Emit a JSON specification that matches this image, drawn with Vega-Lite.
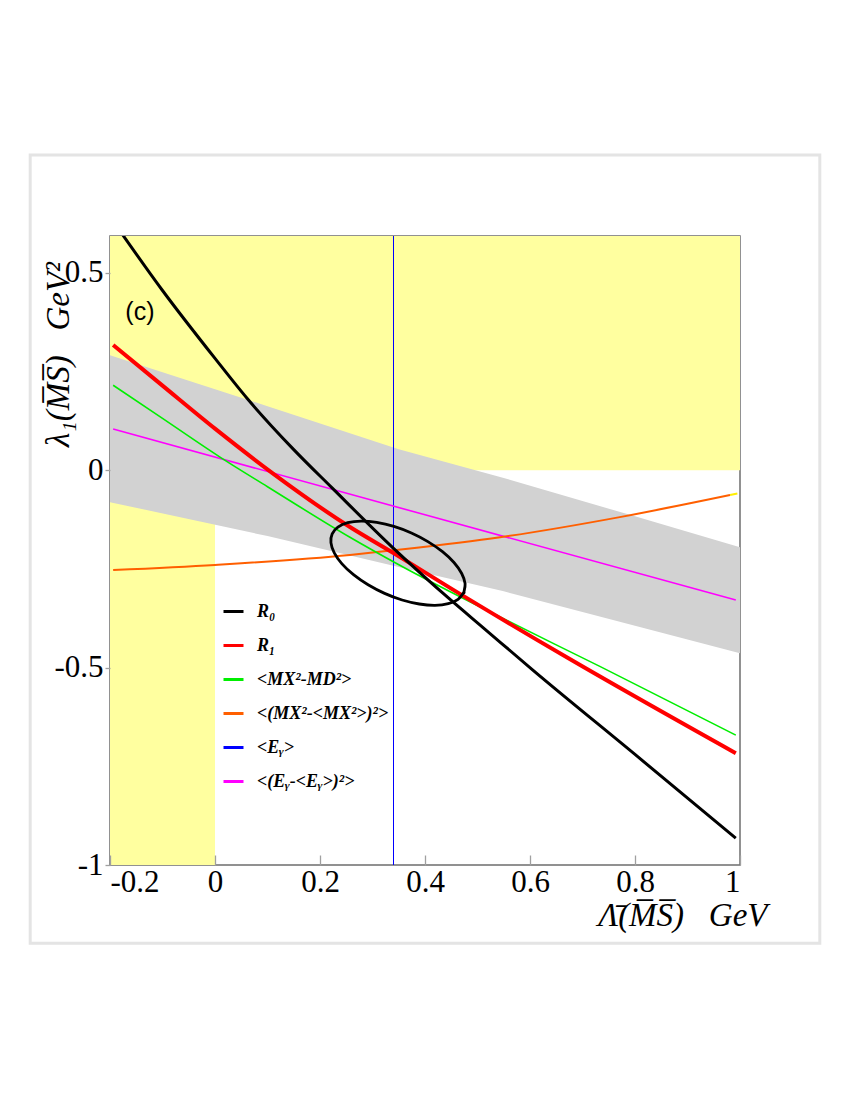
{
  "$schema": "https://vega.github.io/schema/vega-lite/v6.json",
  "width": 630,
  "height": 629,
  "autosize": {"type": "none"},
  "padding": {"left": 110, "top": 236, "right": 110, "bottom": 235},
  "background": "white",
  "config": {
    "view": {"stroke": "#6e6e6e", "strokeWidth": 1.5},
    "axis": {"grid": false, "domain": false, "labelFont": "Liberation Serif", "labelFontSize": 31, "labelColor": "black", "titleFont": "Liberation Serif", "titleFontStyle": "italic", "titleFontWeight": "normal", "titleFontSize": 33, "titleColor": "black"},
    "legend": {"orient": "none", "legendX": 112, "legendY": 364, "title": null, "symbolType": "stroke", "symbolSize": 400, "symbolStrokeWidth": 3, "labelFont": "Liberation Serif", "labelFontStyle": "italic", "labelFontWeight": "bold", "labelFontSize": 18, "labelColor": "black", "rowPadding": 13, "labelOffset": 12, "labelLimit": 300}
  },
  "datasets": {
    "regions": [
      {"x": -0.2, "x2": 1, "y": 0, "y2": 0.593},
      {"x": -0.2, "x2": 0, "y": -1, "y2": 0.593}
    ],
    "band": [
      {"x": -0.2, "lo": -0.081, "hi": 0.291},
      {"x": 0.1, "lo": -0.167, "hi": 0.162},
      {"x": 0.35, "lo": -0.245, "hi": 0.053},
      {"x": 0.55, "lo": -0.307, "hi": -0.02},
      {"x": 0.8, "lo": -0.394, "hi": -0.117},
      {"x": 1.0, "lo": -0.464, "hi": -0.195}
    ],
    "vline": [{"series": "<Eᵧ>", "x": 0.34}],
    "curves": [
      {"series": "R₀", "x": -0.178, "y": 0.6},
      {"series": "R₀", "x": -0.1, "y": 0.455},
      {"series": "R₀", "x": 0.0, "y": 0.283},
      {"series": "R₀", "x": 0.061, "y": 0.182},
      {"series": "R₀", "x": 0.15, "y": 0.052},
      {"series": "R₀", "x": 0.223, "y": -0.045},
      {"series": "R₀", "x": 0.34, "y": -0.198},
      {"series": "R₀", "x": 0.45, "y": -0.33},
      {"series": "R₀", "x": 0.51, "y": -0.398},
      {"series": "R₀", "x": 0.606, "y": -0.507},
      {"series": "R₀", "x": 0.8, "y": -0.72},
      {"series": "R₀", "x": 0.992, "y": -0.932},
      {"series": "R₁", "x": -0.194, "y": 0.317},
      {"series": "R₁", "x": -0.1, "y": 0.214},
      {"series": "R₁", "x": 0.0, "y": 0.105},
      {"series": "R₁", "x": 0.11, "y": -0.008},
      {"series": "R₁", "x": 0.257, "y": -0.144},
      {"series": "R₁", "x": 0.34, "y": -0.21},
      {"series": "R₁", "x": 0.45, "y": -0.3},
      {"series": "R₁", "x": 0.67, "y": -0.474},
      {"series": "R₁", "x": 0.992, "y": -0.717},
      {"series": "<MX²-MD²>", "x": -0.194, "y": 0.215},
      {"series": "<MX²-MD²>", "x": -0.1, "y": 0.131},
      {"series": "<MX²-MD²>", "x": 0.0095, "y": 0.033},
      {"series": "<MX²-MD²>", "x": 0.1, "y": -0.042},
      {"series": "<MX²-MD²>", "x": 0.257, "y": -0.17},
      {"series": "<MX²-MD²>", "x": 0.352, "y": -0.241},
      {"series": "<MX²-MD²>", "x": 0.543, "y": -0.372},
      {"series": "<MX²-MD²>", "x": 0.733, "y": -0.497},
      {"series": "<MX²-MD²>", "x": 0.992, "y": -0.671},
      {"series": "<(MX²-<MX²>)²>", "x": -0.194, "y": -0.253},
      {"series": "<(MX²-<MX²>)²>", "x": 0.0, "y": -0.24},
      {"series": "<(MX²-<MX²>)²>", "x": 0.257, "y": -0.215},
      {"series": "<(MX²-<MX²>)²>", "x": 0.34, "y": -0.203},
      {"series": "<(MX²-<MX²>)²>", "x": 0.543, "y": -0.17},
      {"series": "<(MX²-<MX²>)²>", "x": 0.771, "y": -0.119},
      {"series": "<(MX²-<MX²>)²>", "x": 0.981, "y": -0.063},
      {"series": "<(Eᵧ-<Eᵧ>)²>", "x": -0.194, "y": 0.104},
      {"series": "<(Eᵧ-<Eᵧ>)²>", "x": 0.4, "y": -0.113},
      {"series": "<(Eᵧ-<Eᵧ>)²>", "x": 0.992, "y": -0.329}
    ],
    "tail": [
      {"x": 0.981, "y": -0.063},
      {"x": 0.995, "y": -0.059}
    ],
    "ellipse": [
      {"i": 0, "x": 0.4739, "y": -0.3099},
      {"i": 1, "x": 0.4630, "y": -0.3271},
      {"i": 2, "x": 0.4444, "y": -0.3382},
      {"i": 3, "x": 0.4190, "y": -0.3423},
      {"i": 4, "x": 0.3891, "y": -0.3390},
      {"i": 5, "x": 0.3564, "y": -0.3289},
      {"i": 6, "x": 0.3230, "y": -0.3121},
      {"i": 7, "x": 0.2916, "y": -0.2903},
      {"i": 8, "x": 0.2638, "y": -0.2648},
      {"i": 9, "x": 0.2419, "y": -0.2374},
      {"i": 10, "x": 0.2272, "y": -0.2095},
      {"i": 11, "x": 0.2208, "y": -0.1837},
      {"i": 12, "x": 0.2232, "y": -0.1614},
      {"i": 13, "x": 0.2341, "y": -0.1442},
      {"i": 14, "x": 0.2528, "y": -0.1330},
      {"i": 15, "x": 0.2781, "y": -0.1290},
      {"i": 16, "x": 0.3080, "y": -0.1323},
      {"i": 17, "x": 0.3408, "y": -0.1424},
      {"i": 18, "x": 0.3741, "y": -0.1591},
      {"i": 19, "x": 0.4055, "y": -0.1809},
      {"i": 20, "x": 0.4333, "y": -0.2065},
      {"i": 21, "x": 0.4552, "y": -0.2338},
      {"i": 22, "x": 0.4699, "y": -0.2617},
      {"i": 23, "x": 0.4764, "y": -0.2876},
      {"i": 24, "x": 0.4739, "y": -0.3099}
    ],
    "frame": [{"x": -0.352, "x2": 1.152, "y": -1.198, "y2": 0.798}],
    "note": [{"x": -0.143, "y": 0.4, "label": "(c)"}]
  },
  "encoding": {
    "x": {"field": "x", "type": "quantitative", "scale": {"domain": [-0.2, 1], "nice": false, "zero": false},
      "axis": {"values": [-0.2, 0, 0.2, 0.4, 0.6, 0.8, 1], "labelExpr": "'' + datum.value", "tickSize": -10, "tickColor": "#a0a0a0", "tickWidth": 1.3, "labelPadding": 12, "zindex": 1, "titleX": 657, "titleY": 60, "titleAlign": "right", "titleAnchor": null, "titleBaseline": "alphabetic"},
      "title": "Λ̄(M̅S̅)\u00a0\u00a0\u00a0GeV"},
    "y": {"field": "y", "type": "quantitative", "scale": {"domain": [-1, 0.593], "nice": false, "zero": false},
      "axis": {"values": [-1, -0.5, 0, 0.5], "labelExpr": "'' + datum.value", "tickSize": 5, "tickColor": "#a0a0a0", "tickWidth": 1.3, "labelPadding": 2, "zindex": 1, "titleX": -42, "titleY": 118, "titleAngle": -90, "titleAlign": "center", "titleAnchor": null, "titleBaseline": "alphabetic"},
      "title": "λ₁(M̅S̅)\u00a0\u00a0\u00a0GeV²"}
  },
  "layer": [
    {
      "data": {"name": "regions"},
      "mark": {"type": "rect", "color": "#ffff9f"},
      "encoding": {"x2": {"field": "x2"}, "y2": {"field": "y2"}}
    },
    {
      "data": {"name": "band"},
      "mark": {"type": "area", "color": "#d2d2d2"},
      "encoding": {"y": {"field": "lo", "type": "quantitative"}, "y2": {"field": "hi"}}
    },
    {
      "data": {"name": "vline"},
      "mark": {"type": "rule", "strokeWidth": 1},
      "encoding": {
        "y": null,
        "color": {"field": "series", "type": "nominal",
          "scale": {"domain": ["R₀", "R₁", "<MX²-MD²>", "<(MX²-<MX²>)²>", "<Eᵧ>", "<(Eᵧ-<Eᵧ>)²>"], "range": ["#000000", "#ff0000", "#00ee00", "#ff5f00", "#0000ff", "#ff00ff"]}}
      }
    },
    {
      "data": {"name": "curves"},
      "transform": [{"filter": "datum.series == '<(Eᵧ-<Eᵧ>)²>'"}],
      "mark": {"type": "line", "clip": true, "strokeWidth": 1.6},
      "encoding": {"color": {"field": "series", "type": "nominal"}}
    },
    {
      "data": {"name": "curves"},
      "transform": [{"filter": "datum.series == '<(MX²-<MX²>)²>'"}],
      "mark": {"type": "line", "clip": true, "strokeWidth": 2, "interpolate": "monotone"},
      "encoding": {"color": {"field": "series", "type": "nominal"}}
    },
    {
      "data": {"name": "tail"},
      "mark": {"type": "line", "color": "#ffee00", "strokeWidth": 2}
    },
    {
      "data": {"name": "curves"},
      "transform": [{"filter": "datum.series == '<MX²-MD²>'"}],
      "mark": {"type": "line", "clip": true, "strokeWidth": 1.6, "interpolate": "monotone"},
      "encoding": {"color": {"field": "series", "type": "nominal"}}
    },
    {
      "data": {"name": "curves"},
      "transform": [{"filter": "datum.series == 'R₁'"}],
      "mark": {"type": "line", "clip": true, "strokeWidth": 4, "interpolate": "monotone"},
      "encoding": {"color": {"field": "series", "type": "nominal"}}
    },
    {
      "data": {"name": "curves"},
      "transform": [{"filter": "datum.series == 'R₀'"}],
      "mark": {"type": "line", "clip": true, "strokeWidth": 3, "interpolate": "monotone"},
      "encoding": {"color": {"field": "series", "type": "nominal"}}
    },
    {
      "data": {"name": "ellipse"},
      "mark": {"type": "line", "color": "#000000", "strokeWidth": 2.8, "interpolate": "cardinal-closed"},
      "encoding": {"order": {"field": "i", "type": "quantitative"}}
    },
    {
      "data": {"name": "note"},
      "mark": {"type": "text", "font": "Liberation Sans", "fontSize": 25, "color": "black"},
      "encoding": {"text": {"field": "label"}}
    },
    {
      "data": {"name": "frame"},
      "mark": {"type": "rect", "fillOpacity": 0, "stroke": "#e4e4e4", "strokeWidth": 3, "clip": false},
      "encoding": {"x2": {"field": "x2"}, "y2": {"field": "y2"}}
    }
  ]
}
